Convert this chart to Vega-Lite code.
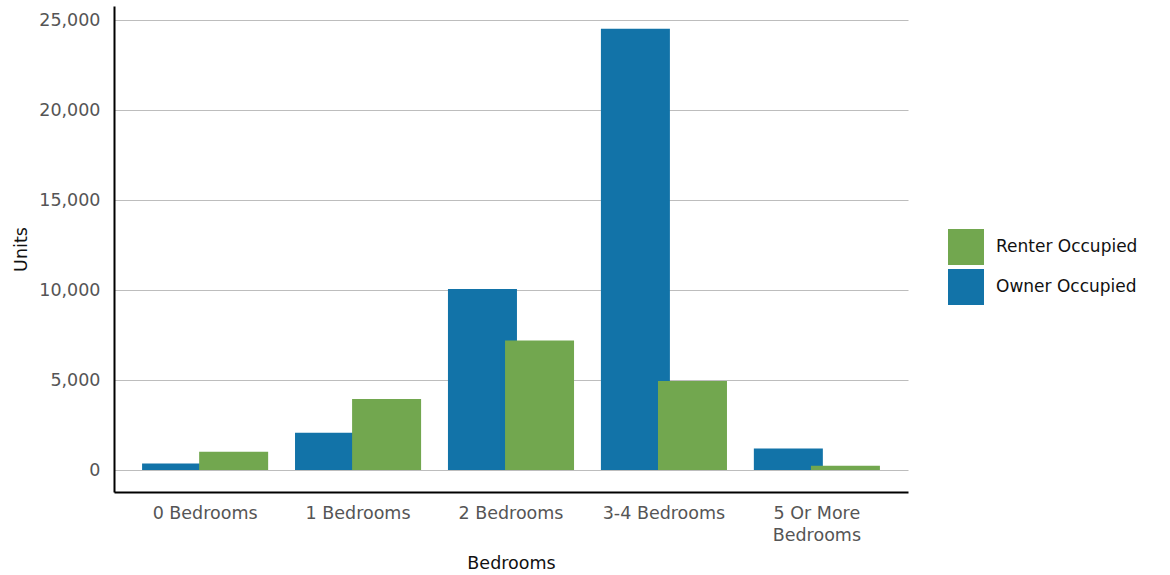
{
  "$schema": "https://vega.github.io/schema/vega-lite/v6.json",
  "width": 794,
  "height": 486,
  "autosize": {"type": "none"},
  "padding": {"left": 114, "top": 6, "right": 262, "bottom": 83},
  "background": "white",
  "data": {
    "values": [
      {"bedrooms": "0 Bedrooms", "tenure": "Owner Occupied", "units": 370},
      {"bedrooms": "1 Bedrooms", "tenure": "Owner Occupied", "units": 2070},
      {"bedrooms": "2 Bedrooms", "tenure": "Owner Occupied", "units": 10060},
      {"bedrooms": "3-4 Bedrooms", "tenure": "Owner Occupied", "units": 24520},
      {"bedrooms": "5 Or More Bedrooms", "tenure": "Owner Occupied", "units": 1200},
      {"bedrooms": "0 Bedrooms", "tenure": "Renter Occupied", "units": 1020},
      {"bedrooms": "1 Bedrooms", "tenure": "Renter Occupied", "units": 3950},
      {"bedrooms": "2 Bedrooms", "tenure": "Renter Occupied", "units": 7200},
      {"bedrooms": "3-4 Bedrooms", "tenure": "Renter Occupied", "units": 4950},
      {"bedrooms": "5 Or More Bedrooms", "tenure": "Renter Occupied", "units": 240}
    ]
  },
  "config": {
    "view": {"stroke": null},
    "font": "DejaVu Sans"
  },
  "mark": {"type": "bar", "width": 69},
  "encoding": {
    "x": {
      "field": "bedrooms",
      "type": "nominal",
      "sort": null,
      "scale": {"paddingInner": 0.2537, "paddingOuter": 0.2226},
      "axis": {
        "title": "Bedrooms",
        "labelAngle": 0,
        "labelFont": "DejaVu Sans",
        "labelFontSize": 17.5,
        "labelColor": "#555555",
        "labelPadding": 12,
        "labelLineHeight": 22,
        "labelExpr": "datum.label == '5 Or More Bedrooms' ? ['5 Or More', 'Bedrooms'] : datum.label",
        "ticks": false,
        "domainColor": "#000000",
        "domainWidth": 2,
        "titleFont": "DejaVu Sans",
        "titleFontSize": 17.5,
        "titleFontWeight": "normal",
        "titleColor": "#111111",
        "titlePadding": 11
      }
    },
    "xOffset": {
      "field": "tenure",
      "type": "nominal",
      "scale": {"domain": ["Owner Occupied", "Renter Occupied"], "paddingInner": 0, "paddingOuter": 0}
    },
    "y": {
      "field": "units",
      "type": "quantitative",
      "scale": {"domain": [-1220, 25780], "nice": false, "zero": false},
      "axis": {
        "title": "Units",
        "values": [0, 5000, 10000, 15000, 20000, 25000],
        "format": ",.0f",
        "labelFont": "DejaVu Sans",
        "labelFontSize": 17.5,
        "labelColor": "#555555",
        "labelPadding": 14,
        "ticks": false,
        "domainColor": "#000000",
        "domainWidth": 2,
        "grid": true,
        "gridColor": "#bdbdbd",
        "gridWidth": 1,
        "titleFont": "DejaVu Sans",
        "titleFontSize": 17.5,
        "titleFontWeight": "normal",
        "titleColor": "#111111",
        "titlePadding": 8
      }
    },
    "color": {
      "field": "tenure",
      "type": "nominal",
      "scale": {"domain": ["Renter Occupied", "Owner Occupied"], "range": ["#72a74f", "#1273a8"]},
      "legend": {
        "title": null,
        "orient": "none",
        "legendX": 834,
        "legendY": 223,
        "symbolType": "square",
        "symbolSize": 1296,
        "symbolStrokeWidth": 0,
        "symbolOpacity": 1,
        "labelFont": "DejaVu Sans",
        "labelFontSize": 17,
        "labelColor": "#111111",
        "labelOffset": 12,
        "rowPadding": 4,
        "padding": 0
      }
    }
  }
}
